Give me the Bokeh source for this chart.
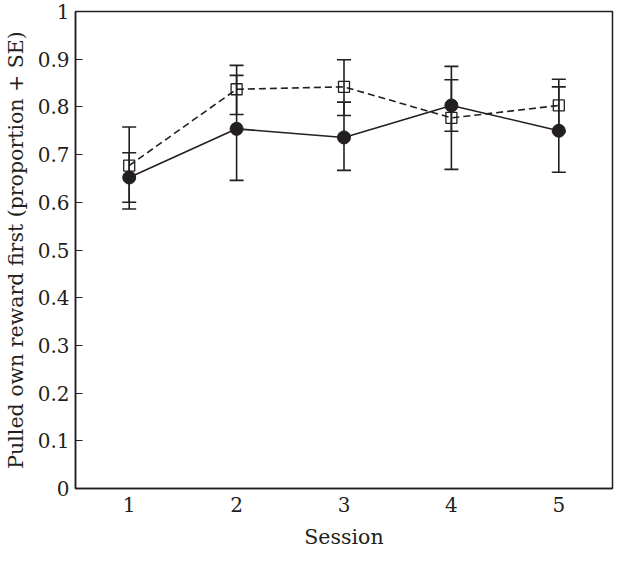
from bokeh.plotting import figure
from bokeh.models import ColumnDataSource, Whisker, TeeHead, FixedTicker, Range1d
from bokeh.embed import file_html
from bokeh.resources import INLINE

sessions = [1, 2, 3, 4, 5]

# Filled circles (solid line)
circle_mean = [0.652, 0.754, 0.736, 0.803, 0.750]
circle_upper = [0.704, 0.866, 0.810, 0.857, 0.842]
circle_lower = [0.586, 0.646, 0.667, 0.749, 0.663]

# Open squares (dashed line)
square_mean = [0.677, 0.837, 0.842, 0.777, 0.803]
square_upper = [0.758, 0.887, 0.899, 0.885, 0.858]
square_lower = [0.600, 0.784, 0.782, 0.669, 0.748]

y_ticks = [0, 0.1, 0.2, 0.3, 0.4, 0.5, 0.6, 0.7, 0.8, 0.9, 1.0]
y_tick_labels = ["0", "0.1", "0.2", "0.3", "0.4", "0.5", "0.6", "0.7", "0.8", "0.9", "1"]
x_tick_labels = ["1", "2", "3", "4", "5"]

INK = "#231f20"
FONT = "DejaVu Serif"

p = figure(width=614, height=551, output_backend="svg", toolbar_location=None,
           x_range=Range1d(0.5, 5.5), y_range=Range1d(0, 1),
           min_border_left=68, min_border_right=2, min_border_top=11, min_border_bottom=58)
p.xgrid.visible = False
p.ygrid.visible = False
p.outline_line_color = INK
p.outline_line_width = 1.5
p.background_fill_color = "white"
p.border_fill_color = "white"

# axes
p.yaxis.ticker = FixedTicker(ticks=y_ticks)
p.yaxis.major_label_overrides = {t: l for t, l in zip(y_ticks, y_tick_labels)}
p.yaxis.major_tick_in = 7
p.yaxis.major_tick_out = 0
p.yaxis.minor_tick_line_color = None
p.yaxis.axis_line_color = INK
p.yaxis.axis_line_width = 1.5
p.yaxis.major_tick_line_color = INK
p.yaxis.major_tick_line_width = 1.2
p.yaxis.axis_label = "Pulled own reward first (proportion + SE)"

p.xaxis.ticker = FixedTicker(ticks=sessions)
p.xaxis.major_label_overrides = {s: l for s, l in zip(sessions, x_tick_labels)}
p.xaxis.major_tick_in = 0
p.xaxis.major_tick_out = 0
p.xaxis.minor_tick_line_color = None
p.xaxis.axis_line_color = INK
p.xaxis.axis_line_width = 1.5
p.xaxis.axis_label = "Session"

for ax in (p.xaxis, p.yaxis):
    ax.major_label_text_font = FONT
    ax.major_label_text_font_size = "20px"
    ax.major_label_text_color = INK
    ax.axis_label_text_font = FONT
    ax.axis_label_text_font_size = "20.5px"
    ax.axis_label_text_font_style = "normal"
    ax.axis_label_text_color = INK
p.yaxis.major_label_standoff = 6
p.xaxis.major_label_standoff = 8
p.yaxis.axis_label_standoff = 7
p.xaxis.axis_label_standoff = 10

src_c = ColumnDataSource(dict(x=sessions, y=circle_mean, up=circle_upper, lo=circle_lower))
src_s = ColumnDataSource(dict(x=sessions, y=square_mean, up=square_upper, lo=square_lower))

for src in (src_s, src_c):
    w = Whisker(base="x", upper="up", lower="lo", source=src,
                line_color=INK, line_width=1.6,
                upper_head=TeeHead(size=14, line_color=INK, line_width=1.6),
                lower_head=TeeHead(size=14, line_color=INK, line_width=1.6))
    p.add_layout(w)

p.line("x", "y", source=src_s, line_color=INK, line_width=1.6, line_dash="7 4")
p.line("x", "y", source=src_c, line_color=INK, line_width=1.6)
p.scatter("x", "y", source=src_s, marker="square", size=11, fill_color=None,
          line_color=INK, line_width=1.3)
p.scatter("x", "y", source=src_c, marker="circle", size=13, fill_color=INK,
          line_color=INK)

open("out.html", "w").write(file_html(p, INLINE))
